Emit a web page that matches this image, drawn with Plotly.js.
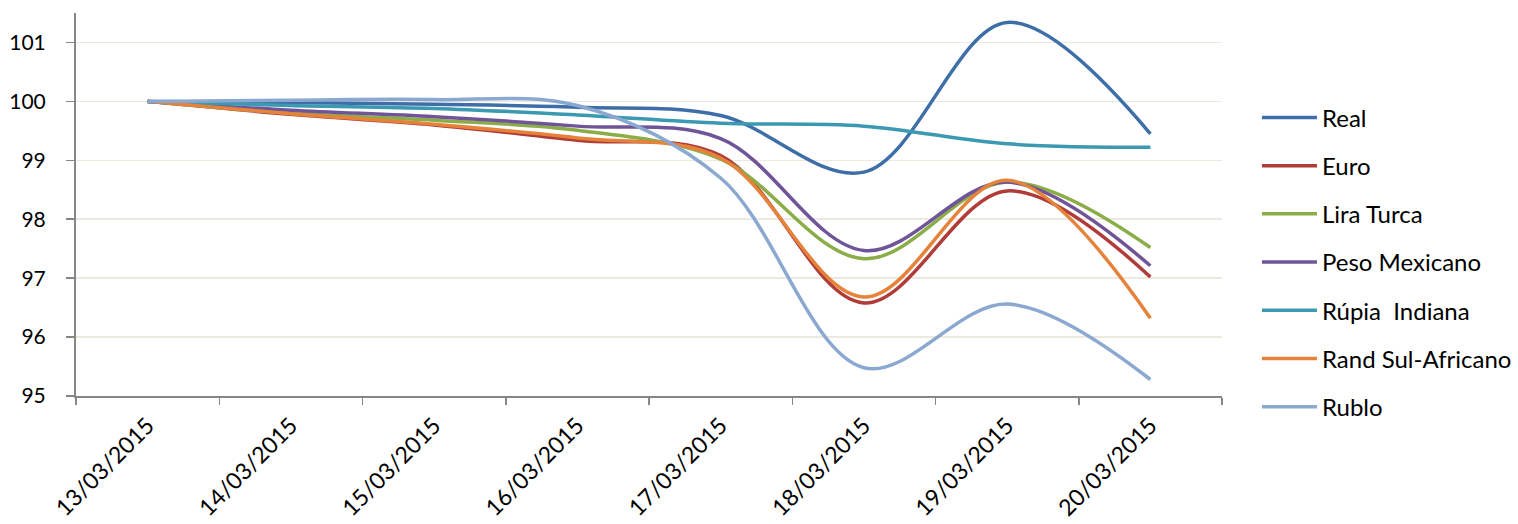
<!DOCTYPE html>
<html>
<head>
<meta charset="utf-8">
<script src="https://cdn.plot.ly/plotly-3.0.1.min.js"></script>
<style>html,body{margin:0;padding:0;background:#fff;}#chart{width:1518px;height:524px;}</style>
</head>
<body>
<div id="chart"></div>
<script>
const categories = ["13/03/2015","14/03/2015","15/03/2015","16/03/2015","17/03/2015","18/03/2015","19/03/2015","20/03/2015"];
const real    = [100, 99.98, 99.95, 99.90, 99.76, 98.80, 101.34, 99.45];
const euro    = [100, 99.78, 99.60, 99.34, 99.08, 96.58, 98.48, 97.02];
const lira    = [100, 99.80, 99.68, 99.51, 99.02, 97.33, 98.63, 97.52];
const peso    = [100, 99.85, 99.74, 99.58, 99.37, 97.47, 98.63, 97.21];
const rupia   = [100, 99.93, 99.88, 99.77, 99.63, 99.58, 99.28, 99.22];
const rand    = [100, 99.79, 99.61, 99.38, 99.04, 96.68, 98.66, 96.32];
const rublo   = [100, 100.02, 100.03, 99.93, 98.70, 95.48, 96.56, 95.28];
const seriesNames = ["Real","Euro","Lira Turca","Peso Mexicano","Rúpia  Indiana","Rand Sul-Africano","Rublo"];
const seriesData = [real, euro, lira, peso, rupia, rand, rublo];
const colors = ["#3e6ea8","#b03b39","#8bad47","#6f5597","#3b99b1","#e5833a","#8ba8d1"];
const yTicks = [95,96,97,98,99,100,101];

const FONT = "Lato, 'Open Sans', sans-serif";
const traces = seriesNames.map((n,i)=>({
  type:"scatter", mode:"lines", name:n, x:categories, y:seriesData[i],
  line:{color:colors[i], width:3.5, shape:"spline", smoothing:1},
  legendgroup:"g"+i, hoverinfo:"skip"
}));

const layout = {
  width:1518, height:524,
  margin:{l:76, r:296, t:13, b:128, autoexpand:false},
  paper_bgcolor:"#ffffff", plot_bgcolor:"rgba(0,0,0,0)",
  font:{family:FONT, color:"#000", size:21},
  showlegend:true,
  legend:{x:1.0305, xanchor:"left", y:0.785, yanchor:"top", xref:"paper", yref:"paper",
          font:{family:FONT, size:24, color:"#000"}, tracegroupgap:14, itemwidth:55,
          bgcolor:"rgba(0,0,0,0)"},
  xaxis:{type:"category", range:[-0.5,7.5], tickson:"boundaries", ticks:"outside", ticklen:7,
         tickcolor:"#868686", tickwidth:1.5, showline:true, linecolor:"#868686", linewidth:2,
         showgrid:false, tickangle:-45, tickfont:{family:FONT, size:23, color:"#000"}, zeroline:false,
         ticklabelstandoff:5, automargin:false},
  yaxis:{range:[95,101.5], tickvals:yTicks, ticktext:yTicks.map(String), ticks:"outside", ticklen:8,
         tickcolor:"#868686", tickwidth:1.5, showline:true, linecolor:"#868686", linewidth:2,
         showgrid:true, gridcolor:"#ece9df", gridwidth:1.5, zeroline:false,
         tickfont:{family:FONT, size:21, color:"#000"}, ticklabelstandoff:16, automargin:false}
};
Plotly.newPlot("chart", traces, layout, {displayModeBar:false, staticPlot:true});
</script>
</body>
</html>
